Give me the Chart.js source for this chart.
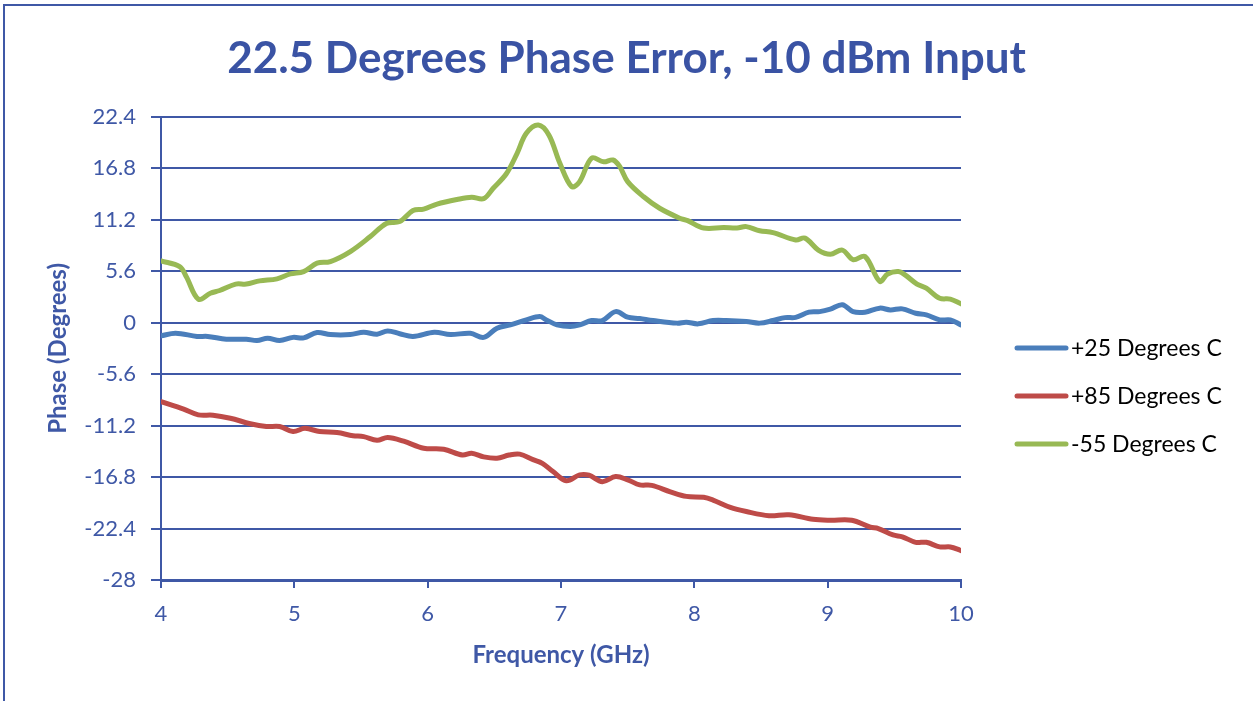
<!DOCTYPE html>
<html>
<head>
<meta charset="utf-8">
<script src="https://cdn.jsdelivr.net/npm/chart.js@4.4.1/dist/chart.umd.min.js"></script>
<style>
  html, body { margin: 0; padding: 0; background: #fff; overflow: hidden; }
  #frame { position: absolute; left: 3px; top: 4px; width: 1400px; height: 900px;
           border-top: 2px solid #3F58A6; border-left: 2px solid #3F58A6; }
  #wrap { position: absolute; left: 0; top: 0; width: 1253px; height: 701px; }
</style>
</head>
<body>
<div id="frame"></div>
<div id="wrap"><canvas id="myChart" width="1253" height="701"></canvas></div>
<script>
// values (GHz, degrees)
const freq25 = [4.00,4.11,4.27,4.35,4.49,4.64,4.72,4.80,4.89,4.99,5.07,5.17,5.27,5.42,5.52,5.62,5.70,5.79,5.89,6.05,6.17,6.32,6.42,6.52,6.62,6.74,6.84,6.89,6.97,7.07,7.14,7.23,7.31,7.41,7.50,7.59,7.69,7.87,7.94,8.03,8.14,8.24,8.39,8.49,8.59,8.68,8.76,8.86,8.94,9.02,9.11,9.19,9.28,9.39,9.47,9.56,9.66,9.74,9.84,9.92,10.00]
const phase25 = [-1.44,-1.15,-1.5,-1.5,-1.8,-1.8,-1.95,-1.7,-1.95,-1.6,-1.65,-1.07,-1.3,-1.3,-1.04,-1.25,-0.9,-1.2,-1.5,-1.04,-1.3,-1.15,-1.6,-0.6,-0.24,0.3,0.66,0.3,-0.24,-0.42,-0.24,0.23,0.23,1.2,0.6,0.45,0.23,-0.05,0.05,-0.13,0.23,0.23,0.12,-0.05,0.23,0.55,0.58,1.14,1.2,1.47,1.94,1.2,1.14,1.58,1.39,1.5,1.03,0.85,0.3,0.3,-0.24]

const freq85 = [4.00,4.17,4.28,4.39,4.52,4.67,4.79,4.89,4.99,5.08,5.19,5.32,5.44,5.52,5.62,5.70,5.82,5.97,6.12,6.26,6.33,6.42,6.52,6.61,6.69,6.79,6.86,6.94,7.04,7.14,7.21,7.31,7.41,7.50,7.59,7.68,7.82,7.94,8.07,8.14,8.27,8.39,8.56,8.71,8.89,9.02,9.18,9.32,9.38,9.49,9.56,9.66,9.74,9.84,9.92,10.00]
const phase85 = [-8.58,-9.41,-10.03,-10.07,-10.4,-11.0,-11.3,-11.3,-11.85,-11.5,-11.85,-11.96,-12.3,-12.4,-12.8,-12.5,-12.9,-13.66,-13.77,-14.4,-14.2,-14.6,-14.75,-14.4,-14.3,-14.9,-15.3,-16.2,-17.2,-16.56,-16.6,-17.3,-16.75,-17.1,-17.65,-17.7,-18.4,-18.9,-19.0,-19.3,-20.1,-20.55,-21.0,-20.9,-21.4,-21.5,-21.5,-22.25,-22.4,-23.1,-23.3,-23.9,-23.9,-24.4,-24.4,-24.8]

const freqM55 = [4.00,4.14,4.19,4.28,4.37,4.44,4.56,4.64,4.74,4.87,4.97,5.07,5.17,5.27,5.42,5.57,5.69,5.79,5.89,5.97,6.07,6.22,6.33,6.42,6.49,6.59,6.67,6.74,6.83,6.91,6.99,7.08,7.14,7.23,7.32,7.39,7.44,7.50,7.62,7.74,7.89,7.95,8.07,8.22,8.32,8.39,8.49,8.59,8.76,8.83,8.93,9.02,9.11,9.19,9.28,9.39,9.45,9.53,9.58,9.67,9.74,9.84,9.92,10.00]
const phaseM55 = [6.72,6.1,5.0,2.56,3.2,3.5,4.2,4.2,4.55,4.77,5.3,5.56,6.47,6.65,7.74,9.37,10.8,11.0,12.2,12.35,12.9,13.4,13.65,13.5,14.6,16.2,18.4,20.6,21.5,20.4,17.4,14.8,15.35,17.9,17.5,17.7,17.0,15.35,13.7,12.45,11.37,11.1,10.3,10.35,10.3,10.45,10.0,9.8,9.0,9.2,7.9,7.45,7.9,6.85,7.2,4.5,5.3,5.56,5.2,4.2,3.75,2.66,2.56,2.05]

const seriesNames = ['+25 Degrees C', '+85 Degrees C', '-55 Degrees C']
const seriesColors = ['#4A7EBB', '#BE4B48', '#98B954']
const yTicks = [-28, -22.4, -16.8, -11.2, -5.6, 0, 5.6, 11.2, 16.8, 22.4]

const blue = '#3F58A6'
const fontFam = 'Lato, "Open Sans", sans-serif'

function pts(xs, ys) {
  return xs.map((x, i) => ({x: x, y: ys[i]}))
}

// legend drawn at the right, line sample + label
const sideLegend = {
  id: 'sideLegend',
  afterDraw(chart, args, opts) {
    const ctx = chart.ctx
    ctx.save()
    chart.data.datasets.forEach((ds, i) => {
      const y = opts.top + i * opts.gap
      ctx.strokeStyle = ds.borderColor
      ctx.lineWidth = 5
      ctx.lineCap = 'round'
      ctx.beginPath()
      ctx.moveTo(opts.x, y)
      ctx.lineTo(opts.x + opts.len, y)
      ctx.stroke()
      ctx.fillStyle = '#000'
      ctx.font = opts.font
      ctx.textBaseline = 'middle'
      ctx.fillText(ds.label, opts.x + opts.len + 5, y + 1)
    })
    ctx.restore()
  }
}

const sets = [pts(freq25, phase25), pts(freq85, phase85), pts(freqM55, phaseM55)]

let cfg = {
  type: 'line',
  data: {
    datasets: sets.map((d, i) => ({
      label: seriesNames[i],
      data: d,
      borderColor: seriesColors[i],
      backgroundColor: seriesColors[i],
      borderWidth: 5,
      pointRadius: 0,
      tension: 0.35,
      fill: false,
      borderCapStyle: 'round',
      borderJoinStyle: 'round'
    }))
  },
  options: {
    responsive: false,
    animation: false,
    layout: {padding: {left: 0, right: 0, top: 0, bottom: 27}},
    plugins: {
      legend: {display: false},
      tooltip: {enabled: false},
      title: {
        display: true,
        text: '22.5 Degrees Phase Error, -10 dBm Input',
        color: '#3A53A4',
        font: {family: fontFam, size: 44, weight: 'bold'},
        padding: {top: 32, bottom: 32}
      },
      sideLegend: {x: 1017, len: 49, top: 348, gap: 48, font: '23px ' + fontFam}
    },
    scales: {
      x: {
        type: 'linear',
        min: 4, max: 10,
        ticks: {stepSize: 1, color: blue, font: {family: fontFam, size: 22}, padding: 13},
        grid: {drawOnChartArea: false, tickColor: blue, tickLength: 8, lineWidth: 2},
        border: {color: blue, width: 3},
        title: {display: true, text: 'Frequency (GHz)', color: blue,
                font: {family: fontFam, size: 24, weight: 'bold'}},
        afterFit(scale) { scale.height = 94 }
      },
      y: {
        min: -28, max: 22.4,
        afterBuildTicks(scale) { scale.ticks = yTicks.map(v => ({value: v})) },
        ticks: {color: blue, font: {family: fontFam, size: 22}, padding: 15,
                callback: v => String(Math.round(v * 10) / 10)},
        grid: {color: blue, tickColor: blue, tickLength: 10, lineWidth: 2},
        border: {color: blue, width: 2},
        title: {display: true, text: 'Phase (Degrees)', color: blue,
                padding: {top: 44, bottom: 4},
                font: {family: fontFam, size: 24, weight: 'bold'}},
        afterFit(scale) { scale.width = 161 }
      },
      // empty right-hand box that keeps room for the legend
      yRight: {
        position: 'right',
        display: true,
        ticks: {display: false},
        grid: {display: false},
        border: {display: false},
        afterFit(scale) { scale.width = 292 }
      }
    }
  },
  plugins: [sideLegend]
}

const ctx = document.getElementById('myChart')
const myChart = new Chart(ctx, cfg)
</script>
</body>
</html>
